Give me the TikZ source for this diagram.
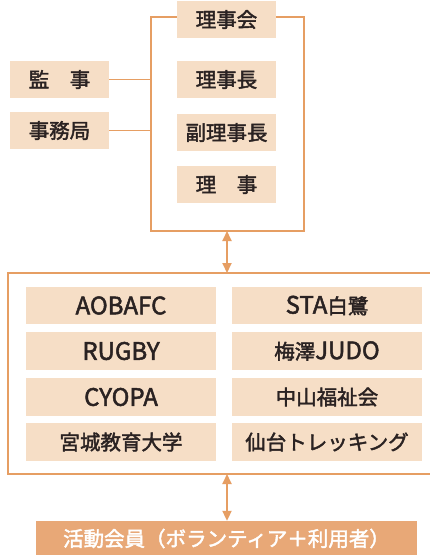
\documentclass[tikz,border=0pt]{standalone}
\usepackage{fontspec}
\setmainfont{Noto Sans CJK JP}[FakeBold=2]
\usetikzlibrary{arrows.meta}
\definecolor{framecol}{HTML}{E69E63}
\definecolor{boxfill}{HTML}{F6DEC6}
\definecolor{memberfill}{HTML}{E8A877}
\definecolor{inkcol}{HTML}{2A2222}
\newcommand\latn[1]{{\fontsize{24}{24}\selectfont #1}}
\tikzset{
  rolebox/.style={fill=boxfill,text=inkcol,minimum width=99pt,minimum height=37pt,inner sep=0pt,font=\fontsize{20.5}{20.5}\selectfont},
  clubbox/.style={rolebox,minimum width=190pt,minimum height=37.5pt},
  memberbox/.style={fill=memberfill,text=white,minimum width=381pt,minimum height=35pt,inner sep=0pt,font=\fontsize{20.5}{20.5}\selectfont},
  frame/.style={draw=framecol,line width=1.8pt},
  link/.style={draw=framecol,line width=2pt,{Triangle[length=10pt,width=9pt]}-{Triangle[length=10pt,width=9pt]}}
}
\begin{document}
\begin{tikzpicture}[x=1pt,y=-1pt]
      \clip (0,0) rectangle (430,555);
      \fill[white] (0,0) rectangle (430,555);
      % frames
      \coordinate (boardNW) at (151,17);
      \coordinate (boardSE) at (304,231);
      \coordinate (boardS) at (227,231);
      \coordinate (clubsNW) at (8,273);
      \coordinate (clubsSE) at (440,474);
      \coordinate (clubsN) at (227,273);
      \coordinate (clubsS) at (227,474);
      \draw[frame] (boardNW) rectangle (boardSE);
      \draw[frame] (clubsNW) rectangle (clubsSE);
      % board
      \node[rolebox] (council) at (226.5,19.5) {理事会};
      \node[rolebox] (auditor) at (59.5,79.5) {監　事};
      \node[rolebox] (office) at (59.5,130.5) {事務局};
      \node[rolebox] (chair) at (226.5,79.5) {理事長};
      \node[rolebox] (vicechair) at (226.5,132.5) {副理事長};
      \node[rolebox] (director) at (226.5,184.5) {理　事};
      \draw[frame] (auditor.east) -- (auditor.east -| boardNW);
      \draw[frame] (office.east) -- (office.east -| boardNW);
      % clubs
      \node[clubbox] (aoba) at (121,305.5) {\latn{AOBAFC}};
      \node[clubbox] (rugby) at (121,351) {\latn{RUGBY}};
      \node[clubbox] (cyopa) at (121,397) {\latn{CYOPA}};
      \node[clubbox] (miyakyo) at (121,442) {宮城教育大学};
      \node[clubbox] (sta) at (327,305.5) {\latn{STA}白鷺};
      \node[clubbox] (judo) at (327,351) {梅澤\latn{JUDO}};
      \node[clubbox] (nakayama) at (327,397) {中山福祉会};
      \node[clubbox] (trek) at (327,442) {仙台トレッキング};
      % members
      \node[memberbox] (members) at (226.5,538.5) {活動会員（ボランティア＋利用者）};
      \draw[link] (boardS) -- (clubsN);
      \draw[link] (clubsS) -- (members.north -| clubsS);
    \end{tikzpicture}
\end{document}
